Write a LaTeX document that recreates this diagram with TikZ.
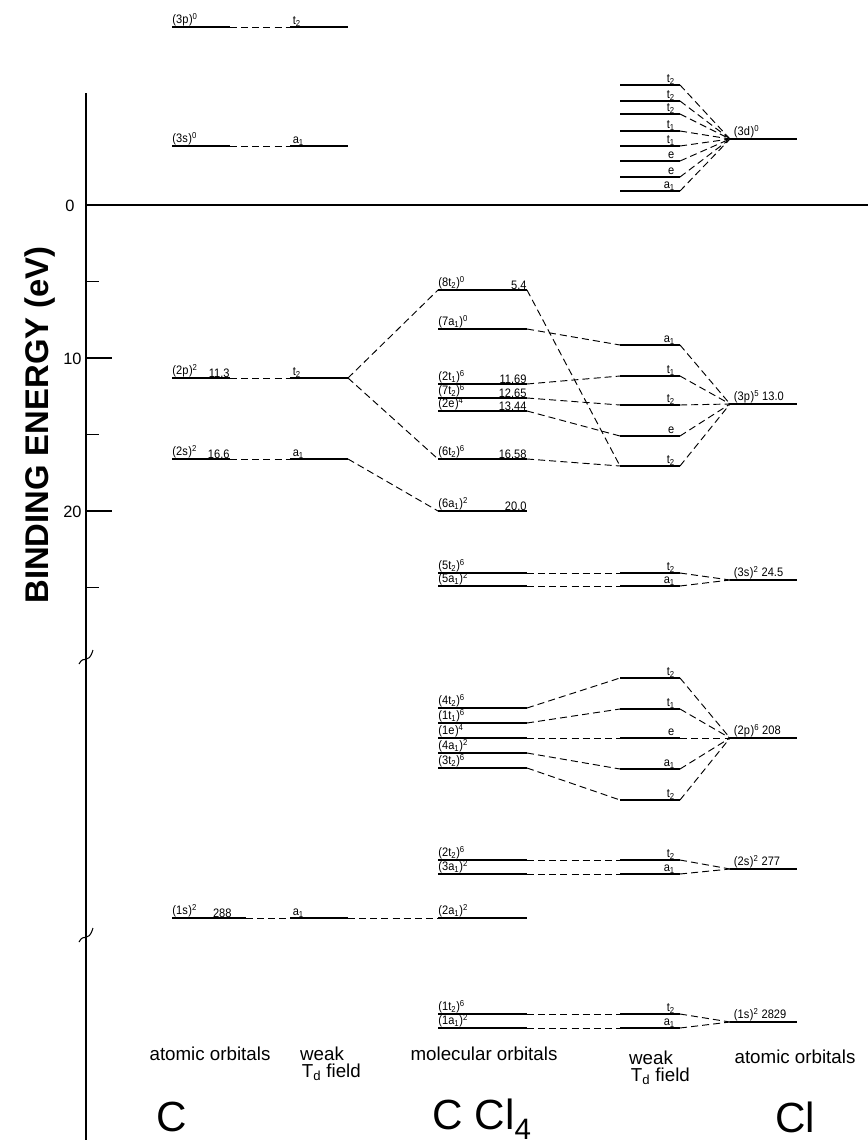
\documentclass[tikz,border=0pt]{standalone}
\usepackage{fontspec}
\setmainfont{Liberation Sans}
\newfontfamily\labfont[FakeStretch=0.9]{Liberation Sans}
\usetikzlibrary{positioning}
\newcommand{\orb}[4]{(#1#2\textsubscript{#3})\textsuperscript{#4}}

\begin{document}
\begin{tikzpicture}[
  x=0.03cm, y=-0.03cm,
  lvl/.style={line width=1.3pt},
  con/.style={line width=0.8pt,dash pattern=on 6pt off 3.5pt},
  lab/.style={font=\labfont\fontsize{10.5}{10.5}\selectfont,inner sep=0.2pt,anchor=south west},
  num/.style={lab,anchor=south east},
  foot/.style={font=\fontsize{16}{17}\selectfont,inner sep=1pt},
  big/.style={font=\fontsize{36}{36}\selectfont,inner sep=0pt},
  tick/.style={font=\fontsize{14}{14}\selectfont,inner sep=1pt,anchor=east}
]
\useasboundingbox (0,0) rectangle (868,1145);

\draw[line width=1.3pt] (86,93) -- (86,1140);
\draw[line width=1.8pt] (86,205) -- (868,205);
\foreach \e/\l in {5/13,10/26,15/13,20/26,25/13}
  \draw[line width=1pt] (86,205+15.3*\e) -- ++(\l,0);
\node[tick] (e0) at (76,206) {0};
\node[tick] (e10) at (83,359) {10};
\node[tick] (e20) at (83,512) {20};
\node[rotate=90,font=\bfseries\fontsize{28}{28}\selectfont] (title) at (40,425) {BINDING ENERGY (eV)};
\foreach \y in {657,935}
  \draw[line width=0.9pt] (79,\y+7) .. controls (84,\y-3) and (88,\y+9) .. (93,\y-7);

\foreach \n/\y/\o/\s in {3p/27/{\orb{3}{p}{}{0}}/{t\textsubscript{2}},
    3s/146/{\orb{3}{s}{}{0}}/{a\textsubscript{1}},
    2p/378/{\orb{2}{p}{}{2}}/{t\textsubscript{2}},
    2s/459/{\orb{2}{s}{}{2}}/{a\textsubscript{1}}}{
  \draw[lvl] (172,\y) coordinate (ca\n-l) -- (230,\y) coordinate (ca\n-r);
  \draw[lvl] (290,\y) coordinate (cw\n-l) -- (348,\y) coordinate (cw\n-r);
  \node[lab] (cat\n) at (ca\n-l) {\o};
  \node[lab] (cwt\n) at ([xshift=2pt]cw\n-l) {\s};
  \draw[con] (ca\n-r) -- (cw\n-l);
}
\draw[lvl] (172,918) coordinate (ca1s-l) -- (246,918) coordinate (ca1s-r);
\draw[lvl] (290,918) coordinate (cw1s-l) -- (348,918) coordinate (cw1s-r);
\node[lab] (cat1s) at (ca1s-l) {\orb{1}{s}{}{2}};
\node[lab] (cwt1s) at ([xshift=2pt]cw1s-l) {a\textsubscript{1}};
\draw[con] (ca1s-r) -- (cw1s-l);
\node[num] (can2p) at (ca2p-r) {11.3};
\node[num] (can2s) at (ca2s-r) {16.6};
\node[num] (can1s) at ([xshift=-12pt]ca1s-r) {288};

\foreach \n/\y/\o in {8t2/290/{\orb{8}{t}{2}{0}}, 7a1/329/{\orb{7}{a}{1}{0}},
    2t1/384/{\orb{2}{t}{1}{6}}, 7t2/398/{\orb{7}{t}{2}{6}}, 2e/411/{\orb{2}{e}{}{4}},
    6t2/459/{\orb{6}{t}{2}{6}}, 6a1/511/{\orb{6}{a}{1}{2}},
    5t2/573/{\orb{5}{t}{2}{6}}, 5a1/586/{\orb{5}{a}{1}{2}},
    4t2/708/{\orb{4}{t}{2}{6}}, 1t1/723/{\orb{1}{t}{1}{6}}, 1e/738/{\orb{1}{e}{}{4}},
    4a1/753/{\orb{4}{a}{1}{2}}, 3t2/768/{\orb{3}{t}{2}{6}},
    2t2/860/{\orb{2}{t}{2}{6}}, 3a1/874/{\orb{3}{a}{1}{2}}, 2a1/918/{\orb{2}{a}{1}{2}},
    1t2/1014/{\orb{1}{t}{2}{6}}, 1a1/1028/{\orb{1}{a}{1}{2}}}{
  \draw[lvl] (438,\y) coordinate (m\n-l) -- (527,\y) coordinate (m\n-r);
  \node[lab] (mt\n) at (m\n-l) {\o};
}
\node[num] (mn8t2) at (m8t2-r) {5.4};
\node[num] (mn2t1) at (m2t1-r) {11.69};
\node[num] (mn7t2) at (m7t2-r) {12.65};
\node[num] (mn2e) at (m2e-r) {13.44};
\node[num] (mn6t2) at (m6t2-r) {16.58};
\node[num] (mn6a1) at (m6a1-r) {20.0};

\foreach \n/\y/\s/\i in {3d1/85/t/2, 3d2/101/t/2, 3d3/114/t/2, 3d4/131/t/1, 3d5/146/t/1,
    3d6/161/e/, 3d7/177/e/, 3d8/191/a/1,
    3pa1/345/a/1, 3pt1/376/t/1, 3pt2/405/t/2, 3pe/436/e/, 3pt2b/466/t/2,
    3st2/573/t/2, 3sa1/586/a/1,
    2pt2/678/t/2, 2pt1/709/t/1, 2pe/738/e/, 2pa1/769/a/1, 2pt2b/800/t/2,
    2st2/860/t/2, 2sa1/874/a/1, 1st2/1014/t/2, 1sa1/1028/a/1}{
  \draw[lvl] (620,\y) coordinate (w\n-l) -- (680,\y) coordinate (w\n-r);
  \node[num] (wt\n) at ([xshift=-4pt]w\n-r) {\s\textsubscript{\i}};
}

\foreach \n/\y/\o in {3d/139/{\orb{3}{d}{}{0}}, 3p/404/{\orb{3}{p}{}{5}\ 13.0},
    3s/580/{\orb{3}{s}{}{2}\ 24.5}, 2p/738/{\orb{2}{p}{}{6}\ 208},
    2s/869/{\orb{2}{s}{}{2}\ 277}, 1s/1022/{\orb{1}{s}{}{2}\ 2829}}{
  \draw[lvl] (730,\y) coordinate (l\n-l) -- (797,\y) coordinate (l\n-r);
  \node[lab] (lt\n) at ([xshift=3pt]l\n-l) {\o};
}

\draw[con] (cw2p-r) -- (m8t2-l);
\draw[con] (cw2p-r) -- (m6t2-l);
\draw[con] (cw2s-r) -- (m6a1-l);
\draw[con] (cw1s-r) -- (m2a1-l);

\foreach \a/\b in {8t2/3pt2b, 7a1/3pa1, 2t1/3pt1, 7t2/3pt2, 2e/3pe, 6t2/3pt2b,
    5t2/3st2, 5a1/3sa1, 4t2/2pt2, 1t1/2pt1, 1e/2pe, 4a1/2pa1, 3t2/2pt2b,
    2t2/2st2, 3a1/2sa1, 1t2/1st2, 1a1/1sa1}
  \draw[con] (m\a-r) -- (w\b-l);

\foreach \w in {1,...,8}
  \draw[con] (w3d\w-r) -- (l3d-l);
\foreach \w in {3pa1,3pt1,3pt2,3pe,3pt2b}
  \draw[con] (w\w-r) -- (l3p-l);
\foreach \w in {3st2,3sa1}
  \draw[con] (w\w-r) -- (l3s-l);
\foreach \w in {2pt2,2pt1,2pe,2pa1,2pt2b}
  \draw[con] (w\w-r) -- (l2p-l);
\foreach \w in {2st2,2sa1}
  \draw[con] (w\w-r) -- (l2s-l);
\foreach \w in {1st2,1sa1}
  \draw[con] (w\w-r) -- (l1s-l);

\node[foot] (aoC) at (210,1054) {atomic orbitals};
\node[foot] (wkC) at (322,1054) {weak};
\node[foot,below=0pt of wkC,xshift=8pt] (tdC) {T\textsubscript{d} field};
\node[foot] (moX) at (484,1054) {molecular orbitals};
\node[foot] (wkCl) at (651,1058) {weak};
\node[foot,below=0pt of wkCl,xshift=8pt] (tdCl) {T\textsubscript{d} field};
\node[foot] (aoCl) at (795,1057) {atomic orbitals};
\node[big] (symC) at (172,1117) {C};
\node[big] (symX) at (482,1119) {C Cl\textsubscript{4}};
\node[big] (symCl) at (795,1117) {Cl};
\end{tikzpicture}
\end{document}
